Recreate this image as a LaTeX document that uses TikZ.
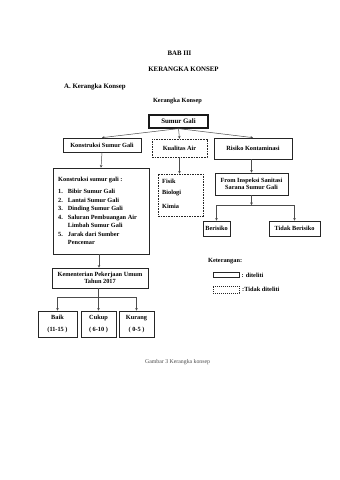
\documentclass[tikz,border=0pt]{standalone}
\usepackage{fontspec}
\setmainfont{Liberation Serif}
\usetikzlibrary{arrows.meta}
\begin{document}
\begin{tikzpicture}[x=1pt,y=-1pt,
  txt/.style={font=\fontsize{6.3}{7.6}\selectfont\bfseries, inner sep=0pt},
  head/.style={font=\fontsize{6.85}{8}\selectfont\bfseries, inner sep=0pt},
  bx/.style={draw=black!85, line width=0.7pt, txt, align=center},
  dbx/.style={bx, dashed, dash pattern=on 1.6pt off 1pt},
  arr/.style={draw=black!70, line width=0.5pt, -{Stealth[length=2.6pt,width=2.6pt]}},
  ln/.style={draw=black!70, line width=0.5pt}]
\useasboundingbox[fill=white] (0,0) rectangle (340,480);
% headings
\node[head] (bab) at (179.5,53) {BAB III};
\node[head] (kk) at (183.5,69) {KERANGKA KONSEP};
\node[head, anchor=west] (akk) at (64,86.5) {A. Kerangka Konsep};
\node[txt] (kk2) at (177.5,101) {Kerangka Konsep};
% top
\node[draw=black!90, line width=1.2pt, head, minimum width=59pt, minimum height=13pt] (sg) at (178.5,121.5) {Sumur Gali};
\node[bx, minimum width=78pt, minimum height=14pt] (ksg) at (102,145) {Konstruksi Sumur Gali};
\node[dbx, minimum width=55pt, minimum height=18pt] (ka) at (179.5,148) {Kualitas Air};
\node[bx, minimum width=78pt, minimum height=21pt] (rk) at (253,148.5) {Risiko Kontaminasi};
\draw[arr] (sg.south) -- (ksg.north);
\draw[arr] (sg.south) -- (ka.north);
\draw[arr] (sg.south) -- (rk.north);
% big box
\node[bx, minimum width=96pt, minimum height=86pt] (big) at (101,211) {};
\node[txt, anchor=north west, align=left] (bigt) at (58,176.5) {Konstruksi sumur gali :\\[5.2pt]
\begin{tabular}{@{}r@{\hspace{5pt}}l@{}}
1. & Bibir Sumur Gali\\[0.9pt]
2. & Lantai Sumur Gali\\[0.9pt]
3. & Dinding Sumur Gali\\[0.9pt]
4. & Saluran Pembuangan Air\\[0.9pt]
   & Limbah Sumur Gali\\[0.9pt]
5. & Jarak dari Sumber\\[0.9pt]
   & Pencemar
\end{tabular}};
\draw[arr] (ksg.south) -- (big.north);
% fisik box
\node[dbx, minimum width=45pt, minimum height=42pt] (fbk) at (180.5,195) {};
\node[txt, anchor=west] (fis) at (162,181) {Fisik};
\node[txt, anchor=west] (bio) at (162,193.5) {Biologi};
\node[txt, anchor=west] (kim) at (162,206) {Kimia};
\draw[arr] (ka.south) -- (ka.south |- fbk.north);
% risk chain
\node[bx, minimum width=73pt, minimum height=22pt] (fi) at (251.5,184) {From Inspeksi Sanitasi\\Sarana Sumur Gali};
\draw[arr] (rk.south -| fi.north) -- (fi.north);
\coordinate (j1) at (251.5,205);
\node[bx, minimum width=27pt, minimum height=15pt] (ber) at (216.5,228.5) {Berisiko};
\node[bx, minimum width=51pt, minimum height=15pt] (tb) at (294.5,228.5) {Tidak Berisiko};
\draw[arr] (fi.south) -- (j1);
\draw[arr] (j1) -| (ber.north);
\draw[arr] (j1) -| (tb.north);
% kementerian
\node[bx, minimum width=96pt, minimum height=20pt] (kem) at (100,278) {Kementerian Pekerjaan Umum\\Tahun 2017};
\draw[arr] (big.south -| 99,0) -- (kem.north -| 99,0);
\node[bx, minimum width=39pt, minimum height=26pt] (baik) at (57.5,324) {Baik\\[4.5pt](11-15 )};
\node[bx, minimum width=35pt, minimum height=26pt] (cukup) at (98.5,324) {Cukup\\[4.5pt]( 6-10 )};
\node[bx, minimum width=35pt, minimum height=26pt] (kurang) at (136.5,324) {Kurang\\[4.5pt]( 0-5 )};
\coordinate (j2) at (98.5,297);
\draw[arr] (kem.south -| cukup.north) -- (cukup.north);
\draw[arr] (j2) -| (baik.north);
\draw[arr] (j2) -| (kurang.north);
% legend
\node[txt, anchor=west] (ket) at (208,261) {Keterangan:};
\node[draw=black!85, line width=0.6pt, minimum width=26pt, minimum height=5pt, inner sep=0pt] (legs) at (226,275) {};
\node[draw=black!85, line width=0.6pt, dashed, dash pattern=on 1.2pt off 0.8pt, minimum width=26pt, minimum height=7pt, inner sep=0pt] (legd) at (226,289.5) {};
\node[txt, anchor=west] (legst) at (241.5,275) {: diteliti};
\node[txt, anchor=west] (legdt) at (242,289.5) {:Tidak diteliti};
% caption
\node[inner sep=0pt, anchor=west, text=black!70, font=\fontsize{5.8}{7}\selectfont] (cap) at (145,362) {Gambar 3 Kerangka konsep};
\end{tikzpicture}
\end{document}
